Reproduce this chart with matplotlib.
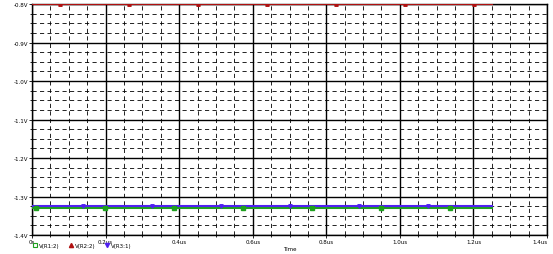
import numpy as np
import matplotlib.pyplot as plt
from matplotlib.ticker import MultipleLocator, FixedLocator

# --- data ---
t_end = 1.25  # us
series_names = ['V(R1:2)', 'V(R2:2)', 'V(R3:1)']
series_values = [-1.331, -0.801, -1.324]
series_colors = ['#1fa01f', '#b01010', '#5020f0']
series_markers = ['s', '^', 'v']
marker_times = [
    [0.011, 0.198, 0.386, 0.573, 0.761, 0.948, 1.136],
    [0.076, 0.263, 0.451, 0.638, 0.826, 1.013, 1.201],
    [0.139, 0.326, 0.514, 0.701, 0.889, 1.076],
]
xticks = [0, 0.2, 0.4, 0.6, 0.8, 1.0, 1.2, 1.4]
xticklabels = ['0s', '0.2us', '0.4us', '0.6us', '0.8us', '1.0us', '1.2us', '1.4us']
yticks = [-0.8, -0.9, -1.0, -1.1, -1.2, -1.3, -1.4]
yticklabels = ['-0.8V', '-0.9V', '-1.0V', '-1.1V', '-1.2V', '-1.3V', '-1.4V']

W, H = 553, 255
fig = plt.figure(figsize=(W / 100, H / 100), dpi=100, facecolor='white')
ax = fig.add_axes([32 / W, 1 - 236 / H, 515 / W, 231 / H])

# draw order: red, green, blue (blue on top as in the probe)
for i in [1, 0, 2]:
    val, col = series_values[i], series_colors[i]
    mt = marker_times[i]
    ax.plot([0, t_end], [val, val], color=col, lw=1.5, zorder=3)
    ax.plot(mt, [val] * len(mt), ls='none', marker=series_markers[i], ms=2.5,
            color=col, zorder=4)

ax.set_xlim(0, 1.4)
ax.set_ylim(-1.4, -0.8)
ax.xaxis.set_major_locator(FixedLocator(xticks))
ax.set_xticklabels(xticklabels)
ax.xaxis.set_minor_locator(MultipleLocator(0.05))
ax.yaxis.set_major_locator(FixedLocator(yticks))
ax.set_yticklabels(yticklabels)
ax.yaxis.set_minor_locator(MultipleLocator(0.025))

ax.grid(which='major', color='black', lw=1.0)
ax.grid(which='minor', color='black', lw=0.6, ls=(0, (5, 4)))
for s in ax.spines.values():
    s.set_linewidth(1.0)
ax.tick_params(which='both', direction='out', length=2, width=0.6, labelsize=4, pad=1)
ax.tick_params(which='minor', length=1.5)
ax.set_axisbelow(True)
ax.set_xlabel('Time', fontsize=4, labelpad=1)
ax.get_xticklabels()[-1].set_horizontalalignment('right')

# legend below the plot, left aligned
handles = [
    plt.Line2D([], [], ls='none', marker='s', ms=3, mfc='white', mec=series_colors[0], mew=0.8),
    plt.Line2D([], [], ls='none', marker='^', ms=3, color=series_colors[1]),
    plt.Line2D([], [], ls='none', marker='v', ms=3, color=series_colors[2]),
]
fig.legend(handles, series_names, loc='lower left', bbox_to_anchor=(29 / W, 3 / H),
           ncol=3, fontsize=4, frameon=False, handlelength=0.8, handletextpad=0.4,
           columnspacing=1.6, borderpad=0.1)

plt.savefig('out.png', dpi=100)
